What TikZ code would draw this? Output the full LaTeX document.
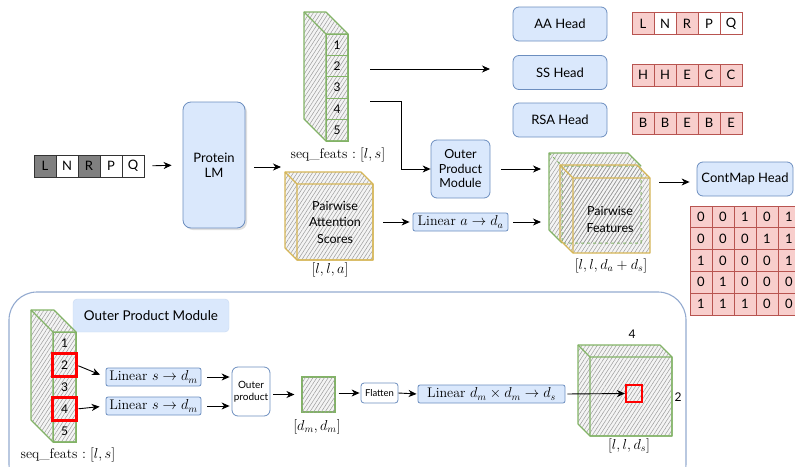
\documentclass[tikz,border=0pt]{standalone}
\usepackage{fontspec}
\setsansfont{Lato}
\usetikzlibrary{arrows.meta,patterns.meta,shadows}
\definecolor{bfill}{HTML}{DAE8FC}
\definecolor{bdraw}{HTML}{6C8EBF}
\definecolor{pfill}{HTML}{F8CECC}
\definecolor{pdraw}{HTML}{B85450}
\definecolor{gdraw}{HTML}{82B366}
\definecolor{ydraw}{HTML}{D6B656}
\definecolor{panelc}{HTML}{93AACF}
\definecolor{hatchc}{HTML}{9C9C9C}
\definecolor{hbg}{HTML}{F4F4F4}
\definecolor{redq}{HTML}{FF0000}
\definecolor{gcell}{HTML}{808080}
\tikzset{
  arr/.style={-{Stealth[length=8pt,width=7pt,inset=2.5pt]}, line width=0.9pt},
  sfs/.style={font=\sffamily\fontsize{13}{15}\selectfont},
  mlab/.style={font=\fontsize{14}{16}\selectfont, inner sep=0pt},
  hatch/.style={pattern={Lines[angle=57,distance=3.2pt,line width=0.5pt]}, pattern color=hatchc},
  head/.style={sfs, rounded corners=6pt, fill=bfill, draw=bdraw, line width=0.8pt, minimum width=94pt, minimum height=34pt, inner sep=0pt},
  lin/.style={fill=bfill, draw=bdraw, rounded corners=2pt, inner sep=0pt, minimum height=18pt, font=\fontsize{14}{16}\selectfont, line width=0.8pt},
  icell/.style={draw=black!80, line width=0.8pt, minimum width=22pt, minimum height=22pt, inner sep=0pt, sfs},
  pcell/.style={draw=pdraw, line width=0.8pt, minimum width=22pt, minimum height=22pt, inner sep=0pt, sfs},
  mcell/.style={draw=pdraw, fill=pfill, line width=0.8pt, minimum width=22pt, minimum height=21.8pt, inner sep=0pt, sfs},
  gcellst/.style={draw=gdraw, line width=1pt, minimum width=22pt, minimum height=21.4pt, inner sep=0pt, font=\sffamily\fontsize{12}{14}\selectfont},
  redbox/.style={draw=redq, line width=2.2pt},
}
\newcommand\mycube[6]{%
  \fill[hbg] (#1,#2) -- ++(#3,0) -- ++(#5,#5) -- ++(0,#4) -- ++(-#3,0) -- ++(-#5,-#5) -- cycle;
  \fill[hatch] (#1,#2) -- ++(#3,0) -- ++(#5,#5) -- ++(0,#4) -- ++(-#3,0) -- ++(-#5,-#5) -- cycle;
  \draw[draw=#6, line width=1.1pt, line join=round] (#1,#2) -- ++(#3,0) -- ++(#5,#5) -- ++(0,#4) -- ++(-#3,0) -- ++(-#5,-#5) -- cycle;
  \draw[draw=#6, line width=1.1pt, line join=round] ({#1+#5},{#2+#5}) rectangle ++(#3,#4) (#1,#2) -- ++(#5,#5);
}
\begin{document}
\begin{tikzpicture}[x=1pt,y=-1pt]
\useasboundingbox (0,0) rectangle (795,466);
\clip (0,0) rectangle (795,466);

% ---------- input sequence ----------
\foreach \i/\t/\c in {1/L/gcell,2/N/white,3/R/gcell,4/P/white,5/Q/white}
  \node[icell, fill=\c] (in\i) at ({23+22*\i},166) {\t};
\node[sfs, align=center, rounded corners=8pt, fill=bfill, draw=bdraw, line width=0.8pt,
      minimum width=62pt, minimum height=126pt,
      drop shadow={opacity=0.25, shadow xshift=2pt, shadow yshift=-2pt}] (lm) at (214,165) {Protein\\LM};
\draw[arr, shorten <=8pt, shorten >=11pt] (in5.east) -- (lm.west);
\coordinate (lmout) at (281,167);
\draw[arr, shorten <=9pt] (lm.east |- lmout) -- (lmout);

% ---------- seq_feats column ----------
\mycube{304}{12}{22}{107}{22}{gdraw}
\foreach \i in {1,...,5}
  \node[gcellst] (sq\i) at (337,{34+21.4*(\i-0.5)}) {\i};
\node[mlab] (sqlab) at (338,155) {\textrm{seq\_feats} $:[l,s]$};

% ---------- arrows to heads / OPM ----------
\coordinate (a1s) at (370,69);
\coordinate (a1e) at (490,69);
\draw[arr] (a1s) -- (a1e);
\node[head, align=center, font=\sffamily\fontsize{12.5}{14.5}\selectfont, minimum width=59pt, minimum height=58pt] (opm) at (460.5,169) {Outer\\Product\\Module};
\coordinate (a2s) at (370,101);
\coordinate (a2b) at (401,101);
\draw[arr] (a2s) -- (a2b) |- (opm.west);

% ---------- heads ----------
\node[head] (aa) at (560,24) {AA Head};
\node[head] (ss) at (560,72.5) {SS Head};
\node[head] (rsa) at (560,120) {RSA Head};
\foreach \i/\t/\c in {1/L/pfill,2/N/white,3/R/pfill,4/P/white,5/Q/white}
  \node[pcell, fill=\c] (aa\i) at ({621+22*\i},23.5) {\t};
\foreach \i/\t in {1/H,2/H,3/E,4/C,5/C}
  \node[pcell, fill=pfill] (ss\i) at ({621+22*\i},75) {\t};
\foreach \i/\t in {1/B,2/B,3/E,4/B,5/E}
  \node[pcell, fill=pfill] (rs\i) at ({621+22*\i},123) {\t};

% ---------- pairwise attention ----------
\mycube{285}{172}{76}{76}{12}{ydraw}
\node[sfs, align=center, font=\sffamily\fontsize{12.5}{16.5}\selectfont] (pas) at (335,222) {Pairwise\\Attention\\Scores};
\node[mlab] (paslab) at (330,270) {$[l,l,a]$};
\coordinate (pasR) at (373,222);
\node[lin, minimum width=95pt] (lina) at (460.5,222) {Linear $a\to d_a$};
\draw[arr, shorten <=10pt, shorten >=3pt] (pasR) -- (lina.west);

% ---------- pairwise features ----------
\fill[hbg] (549,153) -- ++(79,0) -- ++(22,25) -- ++(0,75) -- ++(-77,0) -- ++(-24,-23) -- cycle;
\fill[hatch] (549,153) -- ++(79,0) -- ++(13,13) -- ++(0,77) -- ++(-79,0) -- ++(-13,-13) -- cycle;
\fill[hatch] (560,165) -- ++(77,0) -- ++(13,13) -- ++(0,75) -- ++(-77,0) -- ++(-13,-13) -- cycle;
\draw[gdraw, line width=1.1pt, line join=round] (562,243) -- (549,230) -- (549,153) -- (628,153) -- (641,166);
\draw[gdraw, line width=1pt, dashed] (562,166) rectangle (641,243) (549,153) -- (562,166);
\draw[ydraw, line width=1.1pt, line join=round] (560,165) -- (637,165) -- (650,178) -- (650,253) -- (573,253) -- (560,240) -- cycle;
\draw[ydraw, line width=1.1pt, line join=round] (573,178) -- (650,178) (573,178) -- (573,253) (560,165) -- (573,178);
\node[sfs, align=center, font=\sffamily\fontsize{12.5}{17}\selectfont] (pf) at (610,219) {Pairwise\\Features};
\node[mlab] (pflab) at (611,266) {$[l,l,d_a+d_s]$};
\coordinate (pfL1) at (541,169);
\coordinate (pfL2) at (541,222);
\draw[arr, shorten <=11pt] (opm.east) -- (pfL1);
\draw[arr, shorten <=5pt] (lina.east) -- (pfL2);

% ---------- contact map ----------
\node[head, minimum width=96pt] (cm) at (745,179) {ContMap Head};
\coordinate (pfR) at (659,182);
\draw[arr, shorten >=7pt] (pfR) -- (cm.west |- pfR);
\foreach \r/\row in {1/{0,0,1,0,1},2/{0,0,0,1,1},3/{1,0,0,0,1},4/{0,1,0,0,0},5/{1,1,1,0,0}}
  \foreach \v [count=\c] in \row
    \node[mcell] (m\r-\c) at ({679+22*\c},{206+21.8*(\r-0.5)}) {\v};

% ---------- bottom panel ----------
\draw[panelc, line width=1.1pt, rounded corners=28pt] (9,292) rectangle (686,492);
\node[sfs, font=\sffamily\fontsize{13.5}{15}\selectfont, fill=bfill, draw=bfill!85!bdraw, rounded corners=4pt,
      minimum width=156pt, minimum height=33pt, inner sep=0pt] (opml) at (151,315.5) {Outer Product Module};

\mycube{31}{310}{23}{110}{22}{gdraw}
\foreach \i in {1,...,5}
  \node[gcellst, minimum width=23pt, minimum height=22pt] (b\i) at (64.5,{332+22*(\i-0.5)}) {\i};
\draw[redbox] (b2.north west) rectangle (b2.south east);
\draw[redbox] (b4.north west) rectangle (b4.south east);
\node[mlab] (blab) at (68,455) {\textrm{seq\_feats} $:[l,s]$};

\node[lin, minimum width=95pt] (lin1) at (153.5,377) {Linear $s\to d_m$};
\node[lin, minimum width=95pt] (lin2) at (153.5,406) {Linear $s\to d_m$};
\draw[arr, shorten <=2pt, shorten >=6pt] (b2.east) -- (lin1.west);
\draw[arr, shorten <=2pt, shorten >=6pt] (b4.east) -- (lin2.west);

\node[draw=bdraw, fill=white, line width=0.8pt, rounded corners=6pt, minimum width=38pt, minimum height=49pt,
      inner sep=0pt, align=center, font=\sffamily\fontsize{10}{12.5}\selectfont] (op) at (251,391.5) {Outer\\product};
\draw[arr, shorten <=6pt, shorten >=2pt] (lin1.east) -- (op.west |- lin1.east);
\draw[arr, shorten <=6pt, shorten >=2pt] (lin2.east) -- (op.west |- lin2.east);

\node[draw=gdraw, line width=1.1pt, fill=hbg, postaction={hatch}, minimum width=33pt, minimum height=35pt, inner sep=0pt] (sqm) at (318.5,394.5) {};
\node[mlab] (sqmlab) at (317,427) {$[d_m,d_m]$};
\draw[arr, shorten <=3pt, shorten >=7pt] (op.east |- sqm.west) -- (sqm.west);

\node[draw=bdraw, fill=white, line width=0.8pt, rounded corners=3pt, minimum width=37pt, minimum height=20pt,
      inner sep=0pt, font=\sffamily\fontsize{9.5}{11}\selectfont] (flat) at (379.5,393) {Flatten};
\draw[arr, shorten <=3pt, shorten >=1pt] (sqm.east |- flat.west) -- (flat.west);
\node[lin, minimum width=147pt] (lin3) at (491.5,394) {Linear $d_m\times d_m\to d_s$};
\draw[arr, shorten >=1pt] (flat.east) -- (lin3.west);

\mycube{578}{345}{82}{79}{12}{gdraw}
\node[draw=redq, line width=2.2pt, minimum width=16pt, minimum height=17pt, inner sep=0pt] (rsq) at (634,393.5) {};
\draw[arr, shorten <=2pt] (lin3.east) -- (rsq.west);
\node[sfs, font=\sffamily\fontsize{12}{14}\selectfont] (l4) at (632,334) {4};
\node[sfs, font=\sffamily\fontsize{12}{14}\selectfont] (l2) at (678,397) {2};
\node[mlab] (cublab) at (629,446) {$[l,l,d_s]$};
\end{tikzpicture}
\end{document}
